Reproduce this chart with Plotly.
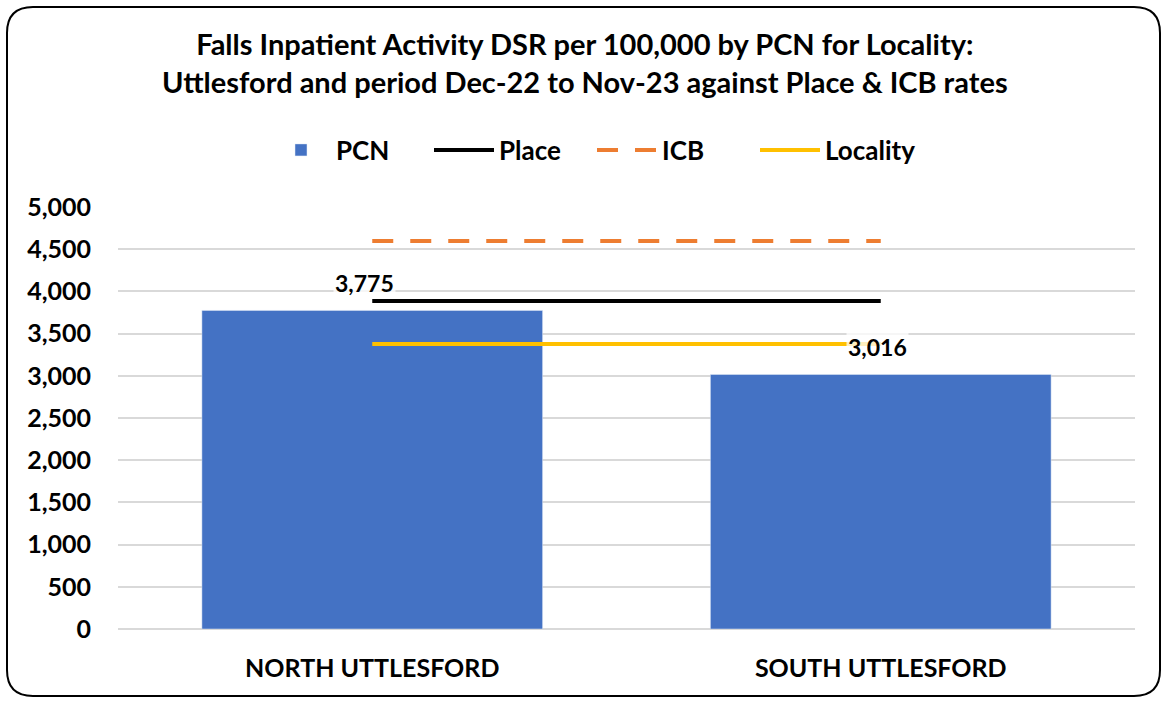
import plotly.graph_objects as go

categories = ["NORTH UTTLESFORD", "SOUTH UTTLESFORD"]
pcn_values = [3775, 3016]
place_values = [3886, 3886]
icb_values = [4597, 4597]
locality_values = [3377, 3377]
y_ticks = [0, 500, 1000, 1500, 2000, 2500, 3000, 3500, 4000, 4500, 5000]

W, H = 1165, 702
ML, MR, MT, MB = 118, 30, 207, 73
PW, PH = W - ML - MR, H - MT - MB

def px(x):
    return (x - ML) / PW

def py(y):
    return (H - MB - y) / PH

FONT = "Lato"

fig = go.Figure()
fig.add_trace(go.Bar(x=categories, y=pcn_values, name="PCN",
                     marker=dict(color="#4472C4"), width=0.67))
fig.add_trace(go.Scatter(x=categories, y=place_values, name="Place", mode="lines",
                         line=dict(color="#000000", width=4)))
fig.add_trace(go.Scatter(x=categories, y=icb_values, name="ICB", mode="lines",
                         line=dict(color="#ED7D31", width=4, dash="21px,17px")))
fig.add_trace(go.Scatter(x=categories, y=locality_values, name="Locality", mode="lines",
                         line=dict(color="#FFC000", width=4)))

for c, v, xs in zip(categories, pcn_values, [-8, -3]):
    fig.add_annotation(x=c, y=v, text=f"{v:,}", showarrow=False, yshift=27, xshift=xs,
                       font=dict(family=FONT, size=23, color="#000000", weight="bold"),
                       bgcolor="rgba(255,255,255,0.75)")

# rounded outer border
L, R, T, B, r = 7, 1160, 7, 696, 26
path = (f"M {px(L + r)},{py(T)} L {px(R - r)},{py(T)} Q {px(R)},{py(T)} {px(R)},{py(T + r)} "
        f"L {px(R)},{py(B - r)} Q {px(R)},{py(B)} {px(R - r)},{py(B)} "
        f"L {px(L + r)},{py(B)} Q {px(L)},{py(B)} {px(L)},{py(B - r)} "
        f"L {px(L)},{py(T + r)} Q {px(L)},{py(T)} {px(L + r)},{py(T)} Z")
fig.add_shape(type="path", path=path, xref="paper", yref="paper",
              line=dict(color="#000000", width=2), fillcolor="rgba(0,0,0,0)", layer="above")

fig.update_layout(
    width=W, height=H,
    margin=dict(l=ML, r=MR, t=MT, b=MB),
    paper_bgcolor="white", plot_bgcolor="white",
    font=dict(family=FONT, color="#000000"),
    title=dict(text="<b>Falls Inpatient Activity DSR per 100,000 by PCN for Locality:<br>"
                    "Uttlesford and period Dec-22 to Nov-23 against Place &amp; ICB rates</b>",
               x=0.502, xref="container", xanchor="center",
               y=1 - 55 / H, yref="container", yanchor="top",
               font=dict(family=FONT, size=29, color="#000000")),
    showlegend=True,
    legend=dict(orientation="h", x=px(592), xanchor="center", y=py(150), yanchor="middle",
                font=dict(family=FONT, size=26, color="#000000", weight="bold"),
                itemwidth=60, entrywidth=88, entrywidthmode="pixels",
                bgcolor="rgba(0,0,0,0)"),
    xaxis=dict(showgrid=False, showline=False, zeroline=False,
               tickfont=dict(family=FONT, size=25, color="#000000", weight="bold"),
               ticklabelstandoff=22),
    yaxis=dict(range=[0, 5000], tickvals=y_ticks, tickformat=",d",
               showgrid=True, gridcolor="#D9D9D9", gridwidth=1.5,
               zeroline=True, zerolinecolor="#D9D9D9", zerolinewidth=1.5,
               showline=False,
               tickfont=dict(family=FONT, size=25, color="#000000", weight="bold"),
               ticklabelstandoff=26),
)

fig.write_html("out.html", config={"displayModeBar": False},
               post_script="document.body.style.margin='0px';document.body.style.overflow='hidden';")
